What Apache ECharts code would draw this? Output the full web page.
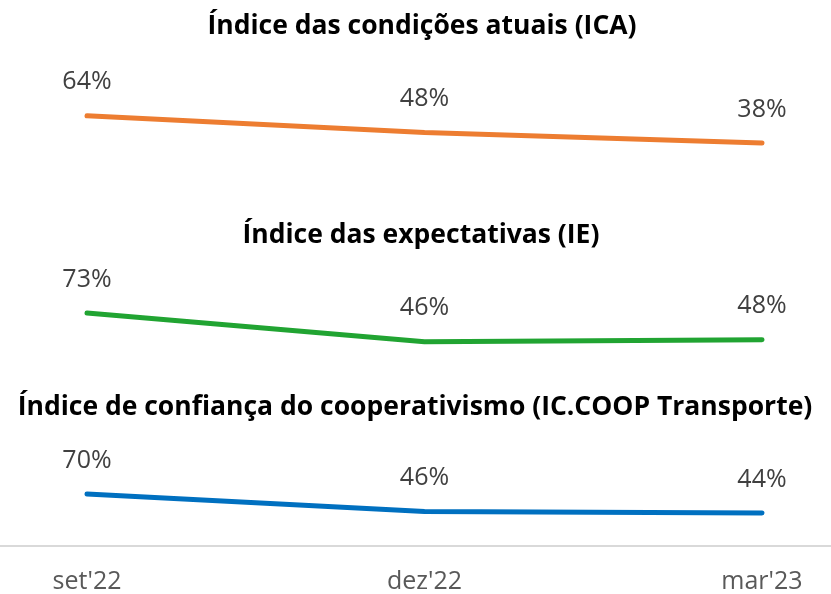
<!DOCTYPE html>
<html>
<head>
<meta charset="utf-8">
<script src="https://cdn.jsdelivr.net/npm/echarts@6/dist/echarts.min.js"></script>
<style>
  html, body { margin: 0; padding: 0; background: #fff; }
  #chart { width: 831px; height: 594px; }
</style>
</head>
<body>
<div id="chart"></div>
<script>
// dados
const months = ["set'22", "dez'22", "mar'23"];
const ica = [64, 48, 38];
const ie = [73, 46, 48];
const icCoop = [70, 46, 44];
const titles = [
  "Índice das condições atuais (ICA)",
  "Índice das expectativas (IE)",
  "Índice de confiança do cooperativismo (IC.COOP Transporte)"
];

const FONT = "Open Sans";
const chart = echarts.init(document.getElementById("chart"));

// cada serie tem o seu proprio grid
const grids = [
  { left: 87, right: 69, top: 78, height: 105 },
  { left: 87, right: 69, top: 284, height: 107 },
  { left: 87, right: 69, top: 472, height: 75 },
  // so para a linha cinza do eixo, largura toda
  { left: 0, right: 0, top: 472, height: 74 }
];

const hiddenX = (i) => ({
  type: "category",
  gridIndex: i,
  data: months,
  boundaryGap: false,
  show: false
});

const line = (i, data, color) => ({
  type: "line",
  xAxisIndex: i,
  yAxisIndex: i,
  data: data,
  symbol: "circle",
  symbolSize: 0,
  showSymbol: true,
  lineStyle: { color: color, width: 5, cap: "round" },
  itemStyle: { color: color },
  label: {
    show: true,
    position: "top",
    distance: 21,
    formatter: "{c}%",
    color: "#404040",
    fontFamily: FONT,
    fontSize: 25
  }
});

const option = {
  animation: false,
  title: [
    { text: titles[0], left: 422, top: 13 },
    { text: titles[1], left: 421, top: 222 },
    { text: titles[2], left: 415, top: 394 }
  ].map((t) => ({
    ...t,
    textAlign: "center",
    padding: 0,
    textStyle: { fontFamily: FONT, fontSize: 26.5, fontWeight: "bold", color: "#000" }
  })),
  grid: grids,
  xAxis: [
    hiddenX(0),
    hiddenX(1),
    {
      type: "category",
      gridIndex: 2,
      data: months,
      boundaryGap: false,
      axisLine: { show: false },
      axisTick: { show: false },
      axisLabel: { color: "#595959", fontFamily: FONT, fontSize: 25, margin: 24 }
    },
    {
      type: "value",
      gridIndex: 3,
      axisLine: { show: true, lineStyle: { color: "#d9d9d9", width: 2 } },
      axisTick: { show: false },
      axisLabel: { show: false },
      splitLine: { show: false }
    }
  ],
  yAxis: [0, 1, 2, 3].map((i) => ({
    type: "value",
    gridIndex: i,
    min: 0,
    max: 100,
    show: false
  })),
  series: [
    line(0, ica, "#ED7D31"),
    line(1, ie, "#21A432"),
    line(2, icCoop, "#0070C0")
  ]
};

chart.setOption(option);
</script>
</body>
</html>
